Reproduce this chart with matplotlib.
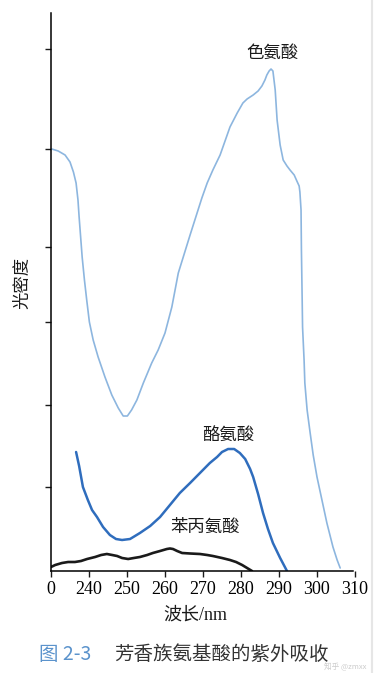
import matplotlib
matplotlib.use("Agg")
import matplotlib.pyplot as plt
from matplotlib.lines import Line2D

# ---- data (wavelength in nm, optical density in arbitrary units) ----
trp_nm = [230.2, 231.9, 233.7, 235.0, 235.9, 236.6, 237.1, 237.4, 237.8, 238.2,
          238.8, 239.4, 240.1, 241.1, 242.4, 244.2, 246.0, 247.7, 249.0, 250.1,
          251.2, 252.6, 254.3, 256.5, 258.2, 260.0, 261.8, 263.5, 266.6, 269.7,
          271.1, 272.6, 274.5, 277.1, 279.0, 280.5, 281.6, 282.4, 283.2, 284.5,
          285.5, 286.3, 286.8, 287.4, 287.9, 288.4, 289.0, 289.5, 290.3, 291.1,
          292.1, 292.9, 294.0, 294.7, 295.3, 295.5, 295.8, 295.9, 296.1, 296.2,
          296.6, 296.8, 297.4, 298.2, 299.0, 300.0, 301.3, 302.6, 303.4, 304.2,
          305.3, 306.1]
trp_od = [4.22, 4.20, 4.16, 4.09, 3.99, 3.88, 3.71, 3.54, 3.34, 3.14,
          2.91, 2.71, 2.49, 2.31, 2.14, 1.94, 1.76, 1.63, 1.55, 1.55,
          1.61, 1.71, 1.88, 2.08, 2.21, 2.38, 2.64, 2.98, 3.36, 3.73,
          3.88, 4.01, 4.16, 4.44, 4.58, 4.68, 4.72, 4.74, 4.76, 4.80,
          4.85, 4.91, 4.96, 5.00, 5.02, 5.00, 4.81, 4.51, 4.26, 4.11,
          4.05, 4.01, 3.96, 3.90, 3.85, 3.79, 3.61, 3.21, 2.71, 2.44,
          2.11, 1.88, 1.61, 1.38, 1.16, 0.94, 0.71, 0.48, 0.36, 0.24,
          0.11, 0.03]

tyr_nm = [236.6, 237.4, 238.4, 239.7, 240.8, 242.1, 243.7, 245.5, 247.1, 248.7,
          250.8, 253.4, 256.1, 258.7, 261.3, 263.9, 266.6, 269.2, 271.8, 273.7,
          275.0, 276.6, 278.2, 279.7, 281.1, 282.4, 283.2, 284.5, 285.8, 287.1,
          288.4, 290.3, 292.1]
tyr_od = [1.19, 1.05, 0.84, 0.71, 0.61, 0.54, 0.44, 0.36, 0.32, 0.31,
          0.32, 0.38, 0.45, 0.54, 0.66, 0.78, 0.88, 0.98, 1.08, 1.14,
          1.19, 1.22, 1.22, 1.18, 1.12, 1.02, 0.94, 0.77, 0.58, 0.42,
          0.28, 0.13, 0.0]

phe_nm = [230.0, 231.1, 232.9, 234.5, 236.3, 237.9, 239.5, 241.6, 243.2, 244.7,
          246.1, 247.4, 248.7, 250.3, 251.8, 253.4, 255.3, 256.8, 258.7, 260.5,
          261.3, 262.1, 263.2, 264.5, 266.6, 269.2, 271.1, 272.6, 275.0, 277.1,
          278.7, 280.3, 281.6, 282.9]
phe_od = [0.04, 0.06, 0.08, 0.09, 0.09, 0.10, 0.12, 0.14, 0.16, 0.17,
          0.16, 0.15, 0.13, 0.12, 0.13, 0.14, 0.16, 0.18, 0.20, 0.22,
          0.225, 0.22, 0.20, 0.18, 0.175, 0.17, 0.16, 0.15, 0.13, 0.11,
          0.09, 0.06, 0.03, 0.0]

x_ticks = [230, 240, 250, 260, 270, 280, 290, 300, 310]
x_tick_labels = ["0", "240", "250", "260", "270", "280", "290", "300", "310"]
y_ticks = [0.84, 1.66, 2.49, 3.24, 4.22, 5.22]

curve_labels = ["色氨酸", "酪氨酸", "苯丙氨酸"]
x_title = "波长/nm"
y_title = "光密度"
fig_no = "图 2-3"
caption = "芳香族氨基酸的紫外吸收"
watermark = "知乎 @zmxx"

CJK = ["Noto Sans CJK SC", "DejaVu Sans"]
SERIF_CJK = ["Liberation Serif", "Noto Sans CJK SC"]

fig = plt.figure(figsize=(3.75, 6.73), dpi=100)
ax = fig.add_axes([51 / 375, 1 - 571 / 673, (355 - 51) / 375, (571 - 13) / 673])

style = dict(solid_capstyle="round", solid_joinstyle="round", antialiased=True)
ax.plot(trp_nm, trp_od, color="#8db6df", lw=1.2, **style)
ax.plot(tyr_nm, tyr_od, color="#2f6dbd", lw=1.8, **style)
ax.plot(phe_nm, phe_od, color="#1a1a1a", lw=1.9, **style)

ax.set_xlim(230, 310)
ax.set_ylim(0, 5.58)
ax.spines["top"].set_visible(False)
ax.spines["right"].set_visible(False)
ax.spines["left"].set_linewidth(1.1)
ax.spines["bottom"].set_linewidth(1.1)
ax.spines["bottom"].set_bounds(230, 309.5)

ax.set_xticks(x_ticks)
ax.set_xticklabels(x_tick_labels, fontfamily="Liberation Serif", fontsize=13)
ax.set_yticks(y_ticks)
ax.set_yticklabels([])
ax.tick_params(axis="both", direction="out", length=4, width=1.0, color="#1a1a1a", pad=3)

# curve labels
ax.text(288.2, 5.18, curve_labels[0], family=CJK, fontsize=12.5, ha="center", va="center", color="#1a1a1a")
ax.text(276.6, 1.36, curve_labels[1], family=CJK, fontsize=12.5, ha="center", va="center", color="#1a1a1a")
ax.text(270.5, 0.44, curve_labels[2], family=CJK, fontsize=12.5, ha="center", va="center", color="#1a1a1a")

# axis titles
fig.text(195 / 375, 1 - 615 / 673, x_title, family=SERIF_CJK, fontsize=13, ha="center", va="center", color="#1a1a1a")
fig.text(22 / 375, 1 - 283 / 673, y_title, family=CJK, fontsize=12.5, rotation=90, ha="center", va="center", color="#1a1a1a")

# caption
fig.text(39 / 375, 1 - 655 / 673, fig_no, family=CJK, fontsize=14, ha="left", va="center", color="#5b93cc")
fig.text(114 / 375, 1 - 655 / 673, caption, family=CJK, fontsize=14, ha="left", va="center", color="#333333")
fig.text(366 / 375, 1 - 667 / 673, watermark, family=CJK, fontsize=5.5, ha="right", va="center", color="#cccccc")

# scan border on the right
fig.add_artist(Line2D([372 / 375, 372 / 375], [0, 1], transform=fig.transFigure, color="#e6e6e6", lw=1.5))

fig.savefig("out.png", dpi=100)
